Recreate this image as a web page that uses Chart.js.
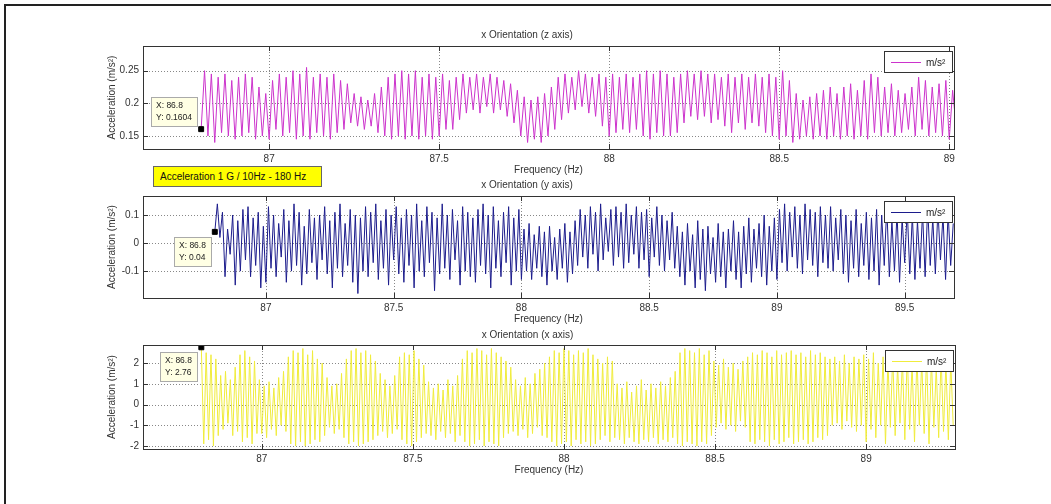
<!DOCTYPE html>
<html>
<head>
<meta charset="utf-8">
<script src="https://cdn.jsdelivr.net/npm/chart.js@4"></script>
<style>
body { margin:0; width:1051px; height:504px; background:#fff; position:relative; overflow:hidden; font-family:'Liberation Sans', Arial, sans-serif; }
.frameTop { position:absolute; left:4px; top:4px; width:1047px; height:2px; background:#222; }
.frameLeft { position:absolute; left:4px; top:4px; width:2px; height:500px; background:#222; }
.plot { position:absolute; left:0; width:1051px; height:160px; }
#note { position:absolute; left:153px; top:166px; width:161px; height:19px; background:#ffff00; border:1px solid #666; font-size:10px; line-height:19px; padding-left:6px; color:#111; z-index:5; white-space:nowrap; }
</style>
</head>
<body>
<div class="frameTop"></div>
<div class="frameLeft"></div>
<div class="plot" style="top:20px"><canvas id="cz" width="1051" height="160"></canvas></div>
<div class="plot" style="top:170px"><canvas id="cy" width="1051" height="160"></canvas></div>
<div class="plot" style="top:320px"><canvas id="cx" width="1051" height="160"></canvas></div>
<div id="note">Acceleration 1 G / 10Hz - 180 Hz</div>
<script>
// sampling grid of each record (Hz)
var zStart = 86.8, zStep = 0.01;
var yStart = 86.8, yStep = 0.01;
var xStart = 86.8, xStep = 0.008;

// z axis record (m/s^2)
var zAccel = [
  0.1604, 0.250, 0.150, 0.245, 0.140, 0.240, 0.155, 0.245, 0.150, 0.235,
  0.145, 0.240, 0.150, 0.245, 0.155, 0.240, 0.145, 0.225, 0.150, 0.215,
  0.145, 0.235, 0.160, 0.245, 0.150, 0.240, 0.155, 0.250, 0.145, 0.245,
  0.150, 0.255, 0.145, 0.240, 0.155, 0.245, 0.150, 0.240, 0.145, 0.245,
  0.155, 0.235, 0.160, 0.230, 0.170, 0.215, 0.165, 0.210, 0.160, 0.205,
  0.165, 0.215, 0.155, 0.225, 0.150, 0.240, 0.145, 0.245, 0.150, 0.250,
  0.145, 0.245, 0.150, 0.250, 0.145, 0.240, 0.150, 0.245, 0.145, 0.240,
  0.150, 0.245, 0.160, 0.235, 0.160, 0.240, 0.175, 0.245, 0.185, 0.240,
  0.190, 0.245, 0.185, 0.240, 0.195, 0.245, 0.185, 0.240, 0.190, 0.235,
  0.180, 0.230, 0.170, 0.220, 0.150, 0.210, 0.140, 0.205, 0.145, 0.210,
  0.140, 0.215, 0.150, 0.225, 0.160, 0.240, 0.175, 0.245, 0.185, 0.240,
  0.190, 0.250, 0.195, 0.245, 0.185, 0.240, 0.180, 0.245, 0.165, 0.240,
  0.150, 0.245, 0.155, 0.240, 0.160, 0.245, 0.155, 0.240, 0.160, 0.245,
  0.150, 0.250, 0.145, 0.245, 0.155, 0.250, 0.150, 0.245, 0.150, 0.240,
  0.155, 0.245, 0.170, 0.250, 0.180, 0.245, 0.175, 0.250, 0.180, 0.245,
  0.170, 0.245, 0.175, 0.240, 0.165, 0.245, 0.155, 0.240, 0.170, 0.245,
  0.160, 0.240, 0.170, 0.245, 0.165, 0.240, 0.155, 0.245, 0.150, 0.240,
  0.145, 0.250, 0.150, 0.235, 0.140, 0.215, 0.145, 0.205, 0.150, 0.210,
  0.145, 0.215, 0.150, 0.220, 0.145, 0.225, 0.150, 0.215, 0.145, 0.225,
  0.150, 0.230, 0.145, 0.220, 0.150, 0.235, 0.145, 0.245, 0.155, 0.240,
  0.150, 0.225, 0.155, 0.230, 0.150, 0.220, 0.155, 0.215, 0.160, 0.225,
  0.150, 0.240, 0.160, 0.235, 0.150, 0.225, 0.155, 0.230, 0.150, 0.235,
  0.145, 0.220, 0.165
];

// y axis record (m/s^2)
var yAccel = [
  0.04, 0.14, 0.02, 0.11, -0.12, 0.05, -0.04, 0.10, -0.15, 0.08, -0.10, 0.12, -0.06, 0.13, -0.12, 0.09, -0.08, 0.11, -0.16, 0.06, -0.14,
  0.13, -0.09, 0.10, -0.12, 0.07, -0.05, 0.12, -0.14, 0.08, -0.10, 0.14, -0.08, 0.11, -0.15, 0.06, -0.11, 0.12, -0.07, 0.09, -0.13,
  0.10, -0.06, 0.13, -0.11, 0.08, -0.16, 0.11, -0.09, 0.14, -0.12, 0.07, -0.08, 0.12, -0.14, 0.10, -0.18, 0.09, -0.10, 0.13, -0.12,
  0.11, -0.07, 0.14, -0.13, 0.08, -0.09, 0.12, -0.15, 0.10, -0.06, 0.13, -0.11, 0.09, -0.14, 0.12, -0.08, 0.10, -0.16, 0.14, -0.10,
  0.08, -0.12, 0.13, -0.07, 0.11, -0.17, 0.09, -0.11, 0.14, -0.09, 0.10, -0.13, 0.12, -0.06, 0.08, -0.15, 0.13, -0.10, 0.11, -0.12,
  0.09, -0.14, 0.12, -0.08, 0.14, -0.11, 0.10, -0.16, 0.13, -0.09, 0.08, -0.12, 0.11, -0.07, 0.13, -0.15, 0.09, -0.10, 0.12, -0.13,
  0.05, -0.10, 0.07, -0.13, 0.03, -0.09, 0.06, -0.12, 0.04, -0.15, 0.06, -0.10, 0.02, -0.13, 0.05, -0.09, 0.07, -0.14, 0.04, -0.11,
  0.08, -0.08, 0.12, -0.05, 0.10, -0.09, 0.13, -0.04, 0.11, -0.10, 0.14, -0.06, 0.09, -0.03, 0.12, -0.08, 0.13, -0.05, 0.11, -0.09,
  0.14, -0.07, 0.10, -0.04, 0.13, -0.09, 0.11, -0.06, 0.12, -0.12, 0.09, -0.05, 0.13, -0.08, 0.10, -0.10, 0.08, -0.06, 0.11, -0.09,
  0.06, -0.12, 0.04, -0.15, 0.07, -0.10, 0.03, -0.16, 0.08, -0.13, 0.05, -0.17, 0.06, -0.11, 0.02, -0.14, 0.07, -0.12, 0.04, -0.16,
  0.05, -0.10, 0.08, -0.13, 0.04, -0.16, 0.06, -0.11, 0.09, -0.14, 0.05, -0.09, 0.07, -0.12, 0.10, -0.15, 0.06, -0.10, 0.09, -0.13,
  0.12, -0.07, 0.14, -0.10, 0.11, -0.05, 0.13, -0.09, 0.10, -0.11, 0.14, -0.06, 0.12, -0.08, 0.11, -0.12, 0.13, -0.07, 0.10, -0.09,
  0.13, -0.10, 0.09, -0.06, 0.12, -0.11, 0.10, -0.14, 0.08, -0.09, 0.12, -0.12, 0.07, -0.08, 0.11, -0.13, 0.09, -0.10, 0.12, -0.15,
  0.10, -0.08, 0.13, -0.12, 0.08, -0.10, 0.11, -0.14, 0.09, -0.07, 0.12, -0.11, 0.10, -0.13, 0.08, -0.09, 0.11, -0.12, 0.13, -0.08,
  0.09, -0.11, 0.12, -0.06, 0.10, -0.13, 0.11, -0.08, 0.07
];

// x axis record (m/s^2)
var xAccel = [
  2.76, -1.9, 2.5, -1.7, 2.4, -2.0, 2.2, -1.5,
  1.4, -1.2, 1.6, -0.9, 1.2, -1.5, 1.8, -1.3,
  2.4, -1.8, 2.6, -1.6, 2.3, -1.9, 2.1, -1.4,
  1.2, -1.4, 0.9, -1.6, 1.1, -1.2, 0.8, -1.5, 1.3, -1.0, 1.6, -1.3,
  2.3, -1.9, 2.6, -2.0, 2.5, -1.8, 2.7, -2.0, 2.4, -1.9, 2.6, -1.7, 2.2, -1.8, 2.0, -1.5,
  1.3, -1.1, 0.9, -1.4, 1.0, -1.2, 1.5, -1.6,
  2.2, -1.9, 2.6, -1.8, 2.7, -2.0, 2.5, -1.9, 2.6, -1.8, 2.4, -1.7, 2.1, -1.5,
  1.5, -1.3, 1.2, -1.6, 0.9, -1.4, 1.4, -1.2,
  2.3, -1.7, 2.5, -1.9, 2.4, -2.0, 2.6, -1.8, 2.2, -1.6, 1.9, -1.4,
  1.1, -1.5, 0.8, -1.7, 1.0, -1.3, 0.7, -1.6, 1.2, -1.4, 0.9, -1.8, 1.4, -1.5,
  2.2, -1.8, 2.6, -2.0, 2.5, -1.9, 2.7, -1.7, 2.6, -2.0, 2.4, -1.8, 2.7, -1.9, 2.5, -2.0, 2.3, -1.6, 2.1, -1.4, 1.8,
  -1.3, 1.2, -1.5, 0.9, -1.2, 1.3, -1.6, 1.0, -1.4, 1.5, -1.1, 1.7, -1.5, 2.0, -1.6,
  2.3, -1.8, 2.6, -2.0, 2.5, -1.9, 2.7, -1.8, 2.6, -2.0, 2.4, -1.7, 2.6, -1.9, 2.5, -1.8, 2.7, -2.0, 2.4, -1.9, 2.2, -1.7, 2.0, -1.5,
  2.3, -1.8, 2.1, -1.6,
  1.0, -1.7, 0.8, -1.9, 1.1, -1.6, 0.6, -1.8, 0.9, -1.9, 1.2, -1.7, 0.7, -1.8, 1.0, -1.6, 0.8, -1.9, 1.1, -1.7, 0.9, -1.8, 1.3, -1.6, 1.6,
  -1.9, 2.5, -2.0, 2.7, -1.8, 2.6, -1.9, 2.5, -2.0, 2.7, -1.8, 2.4, -1.9, 2.6, -1.5,
  2.1, -1.1, 1.9, -0.9, 2.2, -1.2, 1.8, -1.0, 2.0, -1.3, 1.7, -0.8, 2.1, -1.1, 2.3,
  -1.8, 2.5, -1.9, 2.4, -1.7, 2.6, -1.8, 2.5, -2.0, 2.3, -1.7, 2.6, -1.9, 2.4, -1.8, 2.5, -1.6, 2.6, -1.9, 2.4, -1.8, 2.5, -1.7, 2.3, -1.9, 2.6, -1.8, 2.4, -1.6, 2.5, -1.7, 2.3, -1.5, 2.2,
  -1.0, 2.3, -0.9, 2.1, -1.2, 2.4, -0.8, 2.0, -1.1, 2.3, -1.3, 2.2, -1.0, 2.4,
  -1.8, 2.2, -1.2, 2.5, -1.6, 2.0, -1.0, 2.3, -1.9, 2.1, -1.1, 2.4, -1.5, 1.9, -0.9, 2.2, -1.7, 2.5, -1.2, 2.0, -1.8, 2.3, -1.0, 2.1, -1.4, 2.4, -1.9, 2.2, -1.1, 1.8, -1.6, 2.3, -1.3, 2.0, -1.7, 2.1, -1.0
];

// data cursor points
var zTip = {x: 86.8, y: 0.1604};
var yTip = {x: 86.8, y: 0.04};
var xTip = {x: 86.8, y: 2.76};

// axes limits and ticks
var zRangeX = [86.629, 89.014], zRangeY = [0.130, 0.2878];
var yRangeX = [86.519, 89.693], yRangeY = [-0.196, 0.168];
var xRangeX = [86.607, 89.294], xRangeY = [-2.145, 2.87];
var zTicksX = [87, 87.5, 88, 88.5, 89], zTicksY = [0.15, 0.2, 0.25];
var yTicksX = [87, 87.5, 88, 88.5, 89, 89.5], yTicksY = [-0.1, 0, 0.1];
var xTicksX = [87, 87.5, 88, 88.5, 89], xTicksY = [-2, -1, 0, 1, 2];

var FONT = "'Liberation Sans', Arial, sans-serif";
var TXT = '#333';

function toPoints(start, step, list){
    return list.map(function(v, i){ return {x: +(start + i * step).toFixed(3), y: v}; });
}

// grid, box, inner ticks, legend and data tip in MATLAB style
var matlabAxes = {
    id: 'matlabAxes',
    beforeDatasetsDraw: function(chart){
        var ctx = chart.ctx, a = chart.chartArea, sx = chart.scales.x, sy = chart.scales.y;
        ctx.save();
        ctx.strokeStyle = '#888';
        ctx.lineWidth = 1;
        ctx.setLineDash([1, 2]);
        ctx.beginPath();
        sx.ticks.forEach(function(t){
            var px = Math.round(sx.getPixelForValue(t.value)) + 0.5;
            ctx.moveTo(px, a.top); ctx.lineTo(px, a.bottom);
        });
        sy.ticks.forEach(function(t){
            var py = Math.round(sy.getPixelForValue(t.value)) + 0.5;
            ctx.moveTo(a.left, py); ctx.lineTo(a.right, py);
        });
        ctx.stroke();
        ctx.restore();
    },
    afterDatasetsDraw: function(chart, args, opts){
        var ctx = chart.ctx, a = chart.chartArea, sx = chart.scales.x, sy = chart.scales.y;
        ctx.save();
        // box and ticks
        ctx.strokeStyle = '#333';
        ctx.lineWidth = 1;
        ctx.strokeRect(Math.round(a.left) + 0.5, Math.round(a.top) + 0.5, Math.round(a.right - a.left), Math.round(a.bottom - a.top));
        ctx.beginPath();
        sx.ticks.forEach(function(t){
            var px = Math.round(sx.getPixelForValue(t.value)) + 0.5;
            ctx.moveTo(px, a.top); ctx.lineTo(px, a.top + 5);
            ctx.moveTo(px, a.bottom); ctx.lineTo(px, a.bottom - 5);
        });
        sy.ticks.forEach(function(t){
            var py = Math.round(sy.getPixelForValue(t.value)) + 0.5;
            ctx.moveTo(a.left, py); ctx.lineTo(a.left + 5, py);
            ctx.moveTo(a.right, py); ctx.lineTo(a.right - 5, py);
        });
        ctx.stroke();

        // legend
        var lw = 68, lh = 21;
        var lx = Math.round(a.right) - 2 - lw, ly = Math.round(a.top) + 5;
        ctx.fillStyle = '#fff';
        ctx.fillRect(lx, ly, lw, lh);
        ctx.strokeStyle = '#333';
        ctx.strokeRect(lx + 0.5, ly + 0.5, lw, lh);
        ctx.strokeStyle = opts.color;
        ctx.beginPath();
        ctx.moveTo(lx + 7, ly + 11.5); ctx.lineTo(lx + 37, ly + 11.5);
        ctx.stroke();
        ctx.fillStyle = '#222';
        ctx.font = '10px ' + FONT;
        ctx.textBaseline = 'middle';
        ctx.fillText('m/s²', lx + 42, ly + 12);

        // data tip
        var pt = chart.getDatasetMeta(1).data[0];
        var tip = chart.data.datasets[1].data[0];
        var lines = ['X: ' + tip.x, 'Y: ' + tip.y];
        ctx.font = '8.5px ' + FONT;
        var tw = Math.max(ctx.measureText(lines[0]).width, ctx.measureText(lines[1]).width);
        var bw = Math.round(tw) + 10, bh = 29;
        var bx = Math.round(pt.x) - 4 - bw;
        var by = opts.tipAbove ? Math.round(pt.y) - 3 - bh : Math.round(pt.y) + 5;
        ctx.fillStyle = '#ffffe4';
        ctx.fillRect(bx, by, bw, bh);
        ctx.strokeStyle = '#aaa';
        ctx.strokeRect(bx + 0.5, by + 0.5, bw, bh);
        ctx.fillStyle = '#222';
        ctx.fillText(lines[0], bx + 5, by + 9);
        ctx.fillText(lines[1], bx + 5, by + 21);
        ctx.restore();
    }
};

function makeChart(id, cfg){
    var font = {size: 10, family: FONT};
    return new Chart(document.getElementById(id), {
        type: 'line',
        data: {
            datasets: [
                {data: cfg.points, borderColor: cfg.color, borderWidth: 1, pointRadius: 0, tension: 0, order: 1},
                {data: [cfg.tip], showLine: false, pointStyle: 'rect', pointRadius: 3.5, backgroundColor: '#000', borderColor: '#000', order: 0}
            ]
        },
        options: {
            responsive: false,
            animation: false,
            events: [],
            layout: {padding: {left: 100, right: cfg.padRight, top: 0, bottom: cfg.padBottom}},
            plugins: {
                legend: {display: false},
                tooltip: {enabled: false},
                title: {display: true, text: cfg.title, color: TXT, font: {size: 10, family: FONT, weight: 'normal'}, padding: {top: 9, bottom: cfg.titleGap}},
                matlabAxes: {color: cfg.color, tipAbove: cfg.tipAbove}
            },
            scales: {
                x: {
                    type: 'linear', min: cfg.rangeX[0], max: cfg.rangeX[1],
                    afterBuildTicks: function(s){ s.ticks = cfg.ticksX.map(function(v){ return {value: v}; }); },
                    afterFit: function(s){ s.height = 27; s.paddingLeft = 0; s.paddingRight = 0; },
                    ticks: {padding: 4, color: TXT, font: font, maxRotation: 0, callback: function(v){ return String(v); }},
                    grid: {display: false, drawTicks: false},
                    border: {display: false},
                    title: {display: true, text: 'Frequency (Hz)', color: TXT, font: font, padding: 0}
                },
                y: {
                    type: 'linear', min: cfg.rangeY[0], max: cfg.rangeY[1],
                    afterBuildTicks: function(s){ s.ticks = cfg.ticksY.map(function(v){ return {value: v}; }); },
                    afterFit: function(s){ s.width = 43; s.paddingTop = 0; s.paddingBottom = 0; },
                    ticks: {padding: 4, color: TXT, font: font, callback: function(v){ return String(v); }},
                    grid: {display: false, drawTicks: false},
                    border: {display: false},
                    title: {display: true, text: 'Acceleration (m/s²)', color: TXT, font: font, padding: {top: 6, bottom: 0}}
                }
            }
        },
        plugins: [matlabAxes]
    });
}

makeChart('cz', {
    points: toPoints(zStart, zStep, zAccel), tip: zTip, color: '#cc33cc',
    title: 'x Orientation (z axis)', titleGap: 5, padRight: 97, padBottom: 4,
    rangeX: zRangeX, rangeY: zRangeY, ticksX: zTicksX, ticksY: zTicksY, tipAbove: true
});
makeChart('cy', {
    points: toPoints(yStart, yStep, yAccel), tip: yTip, color: '#1c1c8c',
    title: 'x Orientation (y axis)', titleGap: 5, padRight: 97, padBottom: 5,
    rangeX: yRangeX, rangeY: yRangeY, ticksX: yTicksX, ticksY: yTicksY, tipAbove: false
});
makeChart('cx', {
    points: toPoints(xStart, xStep, xAccel), tip: xTip, color: '#f0ec3c',
    title: 'x Orientation (x axis)', titleGap: 4, padRight: 96, padBottom: 4,
    rangeX: xRangeX, rangeY: xRangeY, ticksX: xTicksX, ticksY: xTicksY, tipAbove: false
});
</script>
</body>
</html>
